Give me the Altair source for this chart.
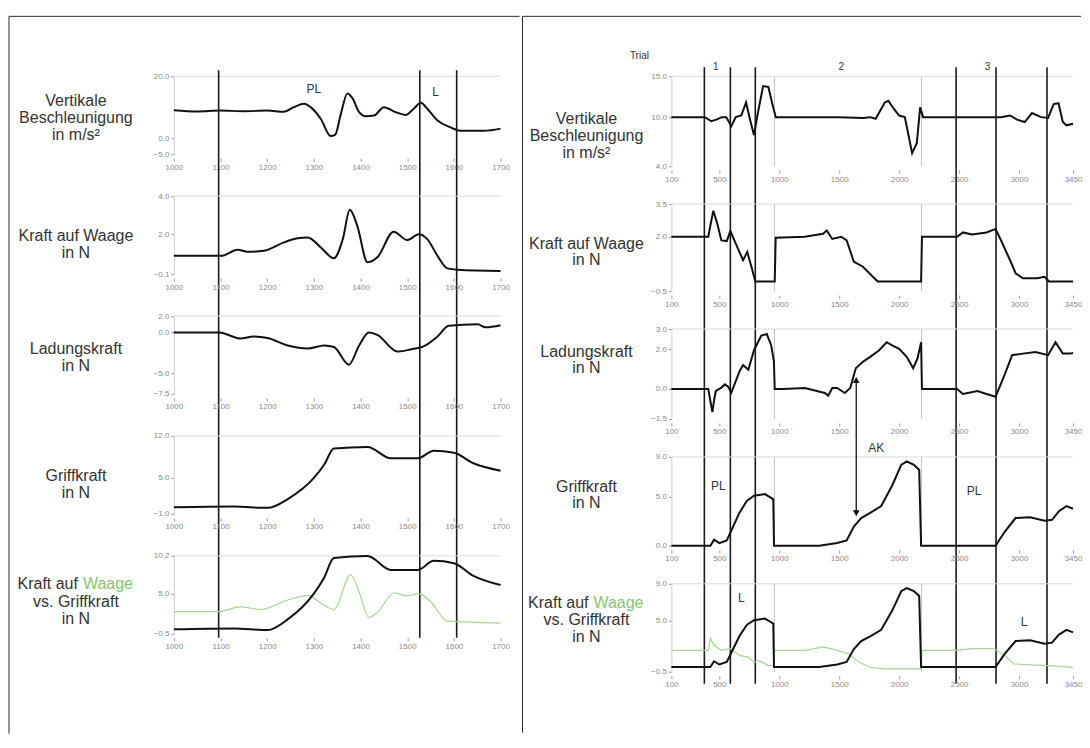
import altair as alt
import pandas as pd

FONT = "Liberation Sans"
INK = "#111111"
TXT = "#333333"
TICK_TXT = "#8a8a8a"
GREEN_LINE = "#a6d596"
GREEN_TXT = "#84c66f"

# ---------------- left figure (samples 1000-1700) ----------------
L_XDOM = [1000, 1700]
L_XTICKS = [1000, 1100, 1200, 1300, 1400, 1500, 1600, 1700]
L_EVENTS = [1096, 1527, 1606]

L_ACC_X = [1000, 1050, 1100, 1150, 1200, 1236, 1257, 1279, 1293, 1315, 1336, 1346, 1357, 1372, 1383,
           1397, 1411, 1429, 1450, 1475, 1497, 1514, 1529, 1543, 1565, 1593, 1614, 1664, 1700]
L_ACC_Y = [9.1, 8.7, 9.0, 8.8, 9.0, 8.6, 10.1, 11.2, 10.1, 6.3, 0.8, 1.3, 7.4, 14.5, 12.9,
           8.5, 7.2, 7.4, 10.1, 8.5, 7.6, 9.6, 11.5, 9.6, 5.8, 3.6, 2.5, 2.5, 3.2]

L_SCALE_X = [1000, 1101, 1137, 1158, 1193, 1236, 1265, 1287, 1315, 1343, 1362, 1377, 1393, 1415,
             1436, 1471, 1500, 1525, 1543, 1565, 1586, 1608, 1700]
L_SCALE_Y = [0.86, 0.86, 1.18, 1.07, 1.13, 1.57, 1.78, 1.83, 1.30, 0.73, 1.74, 3.28, 2.44, 0.52,
             0.78, 2.13, 1.69, 2.0, 1.74, 0.86, 0.20, 0.13, 0.06]

L_LOAD_X = [1000, 1097, 1143, 1171, 1201, 1244, 1287, 1322, 1343, 1375, 1397, 1418, 1436, 1479,
            1507, 1535, 1565, 1589, 1651, 1668, 1700]
L_LOAD_Y = [0.0, 0.0, -0.74, -0.48, -0.67, -1.59, -1.96, -1.59, -1.78, -3.93, -1.59, 0.0, -0.3, -2.33,
            -2.07, -1.70, -0.48, 0.81, 1.0, 0.63, 0.89]

L_GRIP_X = [1000, 1128, 1201, 1244, 1300, 1322, 1343, 1415, 1465, 1522, 1557, 1600, 1642, 1700]
L_GRIP_Y = [0.11, 0.23, 0.0, 1.47, 5.0, 7.2, 9.89, 10.16, 8.26, 8.26, 9.51, 9.19, 7.44, 6.19]

L_GREEN_X = [1000, 1094, 1143, 1186, 1244, 1287, 1315, 1343, 1379, 1397, 1418, 1436, 1472, 1500,
             1525, 1550, 1586, 1700]
L_GREEN_Y = [2.53, 2.53, 3.18, 2.83, 4.13, 4.78, 3.70, 2.83, 7.60, 5.22, 1.75, 2.40, 5.13, 4.70,
             5.0, 3.92, 1.23, 0.97]

L_NOTE_X = [1300, 1561]
L_NOTE_Y = [16.0, 15.1]
L_NOTE_T = ["PL", "L"]

# ---------------- right figure (samples 100-3450) ----------------
R_XDOM = [100, 3450]
R_XTICKS = [100, 500, 1000, 1500, 2000, 2500, 3000, 3450]
R_EVENTS = [375, 592, 800, 2475, 2808, 3233]
R_TRIAL_BOUNDS = [960, 2186]
R_TRIAL_X = [470, 1517, 2738]
R_TRIAL_T = ["1", "2", "3"]

R_ACC_X = [100, 380, 433, 475, 520, 558, 600, 637, 683, 723, 758, 789, 820, 865, 909, 942, 971,
           1500, 1700, 1758, 1804, 1880, 1910, 1956, 2000, 2047, 2075, 2108, 2147, 2175, 2200,
           2850, 2925, 2983, 3047, 3108, 3183, 3242, 3289, 3329, 3365, 3396, 3450]
R_ACC_Y = [10.0, 10.0, 9.5, 9.7, 10.0, 10.0, 8.9, 10.0, 10.2, 11.8, 9.6, 7.8, 10.4, 13.8, 13.7, 11.6, 10.0,
           10.0, 9.9, 10.0, 9.8, 11.8, 12.0, 11.0, 10.2, 10.0, 8.0, 5.6, 6.8, 11.2, 10.0,
           10.0, 10.2, 9.7, 9.4, 10.5, 10.0, 9.9, 11.6, 11.7, 9.4, 9.0, 9.2]

R_SCALE_X = [100, 408, 428, 450, 483, 517, 562, 592, 637, 698, 733, 775, 800, 962, 970, 1213, 1365,
             1396, 1442, 1517, 1562, 1622, 1698, 1820, 2183, 2190, 2483, 2532, 2608, 2729, 2804, 2850,
             2925, 2971, 3032, 3150, 3213, 3250, 3450]
R_SCALE_Y = [2.0, 2.0, 2.6, 3.2, 2.6, 1.83, 1.8, 2.26, 1.68, 0.92, 1.30, 0.47, -0.06, -0.06, 1.95, 2.0,
             2.14, 2.29, 1.9, 2.0, 1.83, 0.85, 0.62, -0.06, -0.06, 2.0, 2.0, 2.2, 2.1, 2.2, 2.36, 1.83,
             0.92, 0.32, 0.09, 0.09, 0.16, -0.06, -0.06]

R_LOAD_X = [100, 408, 425, 442, 458, 471, 517, 547, 575, 600, 637, 670, 698, 742, 789, 850, 896, 933,
            955, 962, 1033, 1213, 1380, 1408, 1442, 1483, 1547, 1592, 1638, 1700, 1758, 1833, 1896,
            1942, 2000, 2063, 2117, 2153, 2183, 2190, 2483, 2532, 2653, 2729, 2804, 2880, 2942, 3032,
            3138, 3242, 3304, 3365, 3425, 3450]
R_LOAD_Y = [0.0, 0.0, -0.6, -1.16, -0.5, -0.1, 0.07, 0.23, 0.1, -0.18, 0.39, 0.9, 1.2, 0.96, 1.94,
            2.67, 2.75, 2.18, 1.4, 0.0, 0.0, 0.05, -0.2, -0.34, 0.05, 0.05, -0.2, 0.05, 1.04, 1.37,
            1.61, 1.94, 2.34, 2.18, 2.01, 1.61, 1.04, 1.53, 2.34, 0.0, 0.0, -0.25, -0.1, -0.25, -0.39,
            0.72, 1.69, 1.77, 1.85, 1.69, 2.34, 1.77, 1.77, 1.8]

R_GRIP_X = [100, 425, 456, 500, 562, 608, 667, 729, 789, 880, 925, 950, 956, 1333, 1483, 1562, 1622,
            1683, 1758, 1850, 1942, 2017, 2063, 2123, 2167, 2183, 2804, 2880, 2971, 3092, 3213, 3275,
            3333, 3396, 3450]
R_GRIP_Y = [0, 0, 0.63, 0.28, 0.55, 1.77, 3.33, 4.55, 5.07, 5.24, 4.90, 4.7, 0, 0, 0.28, 0.55, 1.95,
            2.81, 3.33, 4.03, 6.11, 8.2, 8.54, 8.2, 7.68, 0, 0, 1.42, 2.81, 2.9, 2.53, 2.64,
            3.51, 4.03, 3.75]

R_GREEN_X = [100, 408, 425, 456, 517, 592, 667, 742, 789, 833, 909, 955, 962, 1213, 1365, 1483, 1575,
             1667, 1758, 1880, 2183, 2190, 2483, 2608, 2789, 2880, 2956, 3092, 3242, 3450]
R_GREEN_Y = [1.81, 1.81, 3.1, 2.36, 1.81, 2.0, 1.26, 1.08, 0.53, 0.7, 0.16, 0.16, 1.81, 1.81, 2.18,
             1.81, 1.45, 0.53, -0.02, -0.2, -0.2, 1.81, 1.81, 2.0, 2.0, 1.26, 0.35, 0.24, 0.16, -0.02]

R_NOTE4_X = [492, 2625, 1808]
R_NOTE4_Y = [6.1, 5.6, 9.9]
R_NOTE4_T = ["PL", "PL", "AK"]
R_NOTE5_X = [683, 3042]
R_NOTE5_Y = [7.5, 4.9]
R_NOTE5_T = ["L", "L"]

ARROW_X = 1642
ARROW_TOP = 0.45      # Ladungskraft panel
ARROW_BOTTOM = 3.3    # Griffkraft panel

# ---------------- layout constants ----------------
LW, LH, LSP = 327, 78, 42
RW, RSP = 402, 38
RH = [90, 87, 90, 89, 88]
TSIZE = 16


class Panel:
    def __init__(self, xdom, xticks, ydom, yticks):
        self.xs = alt.Scale(domain=xdom, nice=False, zero=False)
        self.ys = alt.Scale(domain=ydom, nice=False, zero=False)
        self.xa = alt.Axis(values=xticks, format="d", domain=False, grid=False, ticks=True, tickSize=3,
                           tickColor="#9a9a9a", labelFont=FONT, labelFontSize=8, labelColor=TICK_TXT,
                           labelPadding=2, offset=4, labelFlush=False, labelOverlap=False, title=None)
        self.ya = alt.Axis(values=yticks, format=".1f", domain=True, domainColor="#cfcfcf", grid=False,
                           tickSize=3, tickColor="#9a9a9a", labelFont=FONT, labelFontSize=8,
                           labelColor=TICK_TXT, labelPadding=2, labelFlush=False, labelOverlap=False,
                           title=None)
        self.ymax = ydom[1]

    def X(self, f="x:Q"):
        return alt.X(f, scale=self.xs, axis=self.xa)

    def Y(self, f="y:Q"):
        return alt.Y(f, scale=self.ys, axis=self.ya)

    def line(self, xs, ys, color=INK, sw=2.0, interp="linear"):
        return alt.Chart(pd.DataFrame({"x": xs, "y": ys})).mark_line(
            color=color, strokeWidth=sw, interpolate=interp).encode(x=self.X(), y=self.Y())

    def grid(self):
        return alt.Chart(pd.DataFrame({"y": [self.ymax]})).mark_rule(
            color="#dadada", strokeWidth=1).encode(y=self.Y())

    def vrules(self, xs, y0, y1, color, sw):
        return alt.Chart(pd.DataFrame({"x": xs})).mark_rule(color=color, strokeWidth=sw).encode(
            x=self.X(), y=alt.value(y0), y2=alt.value(y1))

    def notes(self, xs, ys, ts, size=12):
        return alt.Chart(pd.DataFrame({"x": xs, "y": ys, "t": ts})).mark_text(
            font=FONT, fontSize=size, color=TXT, align="center", baseline="middle").encode(
            x=self.X(), y=self.Y(), text="t:N")


def label(text, x, y, size=TSIZE, color=TXT, align="center", lh=17):
    return alt.Chart(pd.DataFrame({"t": [text]})).mark_text(
        font=FONT, fontSize=size, color=color, align=align, baseline="middle",
        lineBreak="\n", lineHeight=lh).encode(x=alt.value(x), y=alt.value(y), text="t:N")


def hline(x0, x1, y):
    return alt.Chart(pd.DataFrame({"k": [0]})).mark_rule(color="#2a2a2a", strokeWidth=1).encode(
        x=alt.value(x0), x2=alt.value(x1), y=alt.value(y))


def vline(x, y0, y1):
    return alt.Chart(pd.DataFrame({"k": [0]})).mark_rule(color="#2a2a2a", strokeWidth=1).encode(
        x=alt.value(x), y=alt.value(y0), y2=alt.value(y1))


# ================= left column =================
LCX = -98
lpanels = []

p = Panel(L_XDOM, L_XTICKS, [-5, 20], [-5, 0, 20])
lpanels.append(alt.layer(
    p.grid(),
    p.line(L_ACC_X, L_ACC_Y, interp="monotone"),
    p.vrules(L_EVENTS, -6, 562, "#1a1a1a", 1.6),
    p.notes(L_NOTE_X, L_NOTE_Y, L_NOTE_T),
    label("Vertikale\nBeschleunigung\nin m/s²", LCX, 25),
    hline(-165, 346, -60),
    vline(-165, -60, 658),
).properties(width=LW, height=LH))

p = Panel(L_XDOM, L_XTICKS, [-0.1, 4.0], [-0.1, 2, 4])
lpanels.append(alt.layer(
    p.grid(),
    p.line(L_SCALE_X, L_SCALE_Y, interp="monotone"),
    label("Kraft auf Waage\nin N", LCX, 40),
).properties(width=LW, height=LH))

p = Panel(L_XDOM, L_XTICKS, [-7.5, 2.0], [-7.5, -5, 0, 2])
lpanels.append(alt.layer(
    p.grid(),
    p.line(L_LOAD_X, L_LOAD_Y, interp="monotone"),
    label("Ladungskraft\nin N", LCX, 33),
).properties(width=LW, height=LH))

p = Panel(L_XDOM, L_XTICKS, [-1, 12], [-1, 5, 12])
lpanels.append(alt.layer(
    p.grid(),
    p.line(L_GRIP_X, L_GRIP_Y, interp="monotone"),
    label("Griffkraft\nin N", LCX, 40),
).properties(width=LW, height=LH))

p = Panel(L_XDOM, L_XTICKS, [-0.5, 10.2], [-0.5, 5, 10.2])
lpanels.append(alt.layer(
    p.grid(),
    p.line(L_GREEN_X, L_GREEN_Y, color=GREEN_LINE, sw=1.2, interp="monotone"),
    p.line(L_GRIP_X, L_GRIP_Y, interp="monotone"),
    label("Kraft auf", LCX + 2, 28, align="right"),
    label("Waage", LCX + 7, 28, color=GREEN_TXT, align="left"),
    label("vs. Griffkraft\nin N", LCX, 46),
).properties(width=LW, height=LH))

left_col = alt.vconcat(*lpanels, spacing=LSP, bounds="flush")

# ================= right column =================
RCX = -85
rpanels = []

p = Panel(R_XDOM, R_XTICKS, [4, 15], [4, 10, 15])
rpanels.append(alt.layer(
    p.grid(),
    p.vrules(R_TRIAL_BOUNDS, 0, RH[0], "#c4c4c4", 1),
    p.line(R_ACC_X, R_ACC_Y),
    p.vrules(R_EVENTS, -9, 608, "#1a1a1a", 1.6),
    alt.Chart(pd.DataFrame({"x": R_TRIAL_X, "t": R_TRIAL_T})).mark_text(
        font=FONT, fontSize=10, color=TXT, baseline="middle").encode(
        x=p.X(), y=alt.value(-9), text="t:N"),
    label("Trial", -32, -20, size=10),
    label("Vertikale\nBeschleunigung\nin m/s²", RCX, 43),
    hline(-149, 410, -60),
    vline(-149, -60, 657),
).properties(width=RW, height=RH[0]))

p = Panel(R_XDOM, R_XTICKS, [-0.5, 3.5], [-0.5, 2, 3.5])
rpanels.append(alt.layer(
    p.grid(),
    p.vrules(R_TRIAL_BOUNDS, 0, RH[1], "#c4c4c4", 1),
    p.line(R_SCALE_X, R_SCALE_Y),
    label("Kraft auf Waage\nin N", RCX, 40, lh=16),
).properties(width=RW, height=RH[1]))

p = Panel(R_XDOM, R_XTICKS, [-1.5, 3.0], [-1.5, 0, 2, 3])
rpanels.append(alt.layer(
    p.grid(),
    p.vrules(R_TRIAL_BOUNDS, 0, RH[2], "#c4c4c4", 1),
    p.line(R_LOAD_X, R_LOAD_Y),
    alt.Chart(pd.DataFrame({"x": [ARROW_X], "y": [ARROW_TOP]})).mark_rule(color=INK, strokeWidth=1.3).encode(
        x=p.X(), y=p.Y(), y2=alt.value(RH[2] + RSP)),
    alt.Chart(pd.DataFrame({"x": [ARROW_X], "y": [ARROW_TOP]})).mark_point(
        shape="triangle-up", filled=True, color=INK, size=45, opacity=1).encode(x=p.X(), y=p.Y()),
    label("Ladungskraft\nin N", RCX, 23, lh=16),
).properties(width=RW, height=RH[2]))

p = Panel(R_XDOM, R_XTICKS, [0, 9], [0, 5, 9])
rpanels.append(alt.layer(
    p.grid(),
    p.vrules(R_TRIAL_BOUNDS, 0, RH[3], "#c4c4c4", 1),
    p.line(R_GRIP_X, R_GRIP_Y),
    alt.Chart(pd.DataFrame({"x": [ARROW_X], "y": [ARROW_BOTTOM]})).mark_rule(color=INK, strokeWidth=1.3).encode(
        x=p.X(), y=p.Y(), y2=alt.value(-1)),
    alt.Chart(pd.DataFrame({"x": [ARROW_X], "y": [ARROW_BOTTOM]})).mark_point(
        shape="triangle-down", filled=True, color=INK, size=45, opacity=1).encode(x=p.X(), y=p.Y()),
    p.notes(R_NOTE4_X, R_NOTE4_Y, R_NOTE4_T),
    label("Griffkraft\nin N", RCX, 30, lh=16),
).properties(width=RW, height=RH[3]))

p = Panel(R_XDOM, R_XTICKS, [-0.5, 9], [-0.5, 5, 9])
rpanels.append(alt.layer(
    p.grid(),
    p.vrules(R_TRIAL_BOUNDS, 0, RH[4], "#c4c4c4", 1),
    p.line(R_GREEN_X, R_GREEN_Y, color=GREEN_LINE, sw=1.2),
    p.line(R_GRIP_X, R_GRIP_Y),
    p.notes(R_NOTE5_X, R_NOTE5_Y, R_NOTE5_T),
    label("Kraft auf", RCX + 2, 19, align="right"),
    label("Waage", RCX + 7, 19, color=GREEN_TXT, align="left"),
    label("vs. Griffkraft\nin N", RCX, 36, lh=17.5),
).properties(width=RW, height=RH[4]))

right_col = alt.vconcat(*rpanels, spacing=RSP, bounds="flush")

chart = alt.hconcat(left_col, right_col, spacing=1).properties(
    padding={"left": 0, "top": 7, "right": 0, "bottom": 0}
).configure_view(stroke=None)

chart.save("out.html", embed_options={"renderer": "svg", "actions": False})
